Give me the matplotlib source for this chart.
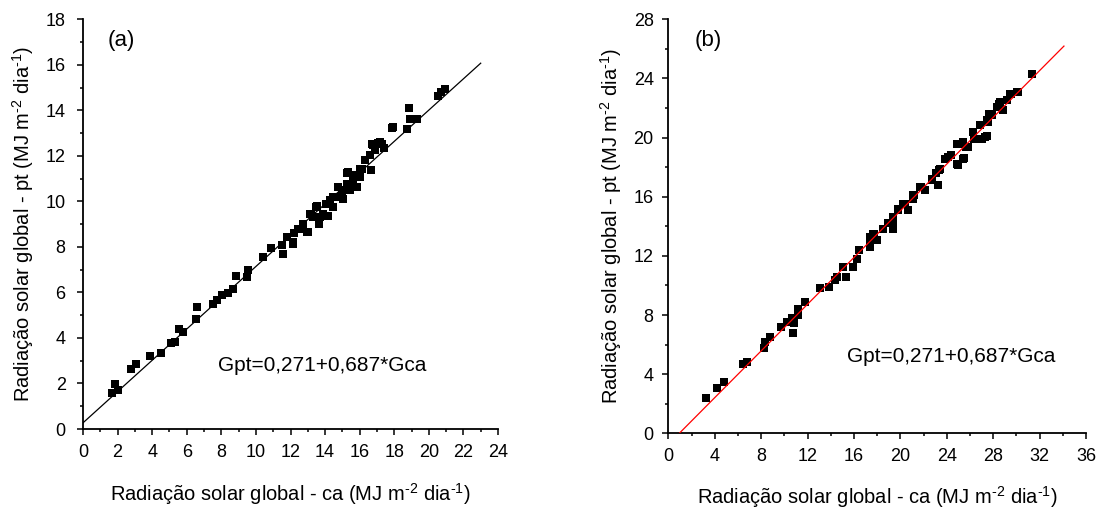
import matplotlib
matplotlib.use("Agg")
import matplotlib.pyplot as plt
import numpy as np
from matplotlib.ticker import MultipleLocator

plt.rcParams['font.family'] = ['Liberation Sans', 'DejaVu Sans']
plt.rcParams['mathtext.fontset'] = 'custom'
plt.rcParams['mathtext.rm'] = 'Liberation Sans'
plt.rcParams['mathtext.default'] = 'regular'

# Panel (a) data
a_x = [1.70, 1.85, 2.00, 2.76, 3.06, 3.87, 4.49, 5.09, 5.32, 5.53, 5.76, 6.57, 6.53,
       7.53, 7.73, 8.01, 8.40, 8.69, 8.82, 9.46, 9.56, 10.42, 10.85, 10.90, 11.54,
       11.48, 11.81, 12.16, 12.20, 12.54, 12.74, 12.99, 13.12, 13.54, 13.62, 13.31,
       13.89, 14.18, 14.05, 14.28, 14.47, 14.66, 14.76, 14.95, 15.05, 15.24, 15.28,
       15.43, 15.59, 15.66, 15.82, 16.01, 16.11, 16.30, 16.63, 16.59, 16.78, 16.88,
       17.07, 17.32, 17.40, 17.88, 17.90, 18.75, 18.84, 18.90, 19.34, 20.54, 20.73,
       20.96, 16.69, 17.17, 15.34, 15.80, 15.62, 15.14, 14.08, 13.50, 13.20, 13.70,
       12.70, 12.45, 12.93, 11.77, 12.16, 16.00, 14.47]
a_y = [1.57, 1.97, 1.71, 2.62, 2.84, 3.20, 3.35, 3.76, 3.83, 4.40, 4.24, 5.34, 4.84,
       5.48, 5.66, 5.88, 5.98, 6.13, 6.73, 6.68, 6.97, 7.56, 7.97, 7.97, 7.71,
       8.10, 8.44, 8.14, 8.61, 8.80, 8.98, 8.66, 9.43, 9.80, 9.02, 9.31,
       9.46, 9.36, 9.90, 10.04, 9.75, 10.19, 10.63, 10.41, 10.12, 10.78, 11.25,
       10.48, 10.92, 11.14, 10.63, 11.07, 11.43, 11.84, 11.39, 12.06, 12.46, 12.24,
       12.56, 12.53, 12.36, 13.23, 13.29, 13.16, 14.11, 13.60, 13.63, 14.65, 14.79,
       14.94, 12.53, 12.60, 11.29, 11.07, 10.70, 10.48, 9.90, 9.75, 9.46, 9.31,
       9.02, 8.80, 8.65, 8.43, 8.22, 11.43, 10.19]

# Panel (b) data
b_x = [3.25, 4.23, 4.83, 6.47, 6.76, 8.28, 8.34, 8.77, 9.72, 10.21, 10.64, 10.72,
       10.84, 11.21, 11.21, 11.78, 13.08, 13.85, 14.37, 14.52, 15.29, 15.09, 15.95,
       16.29, 16.47, 17.39, 17.39, 17.73, 18.02, 18.53, 19.34, 19.40, 19.83, 20.26,
       20.64, 21.07, 21.21, 21.70, 22.13, 22.71, 23.28, 23.36, 23.10, 23.85, 24.34,
       24.91, 24.86, 25.43, 25.49, 25.81, 26.24, 26.35, 26.87, 27.02, 27.45, 27.45,
       27.67, 28.31, 28.53, 28.83, 29.17, 29.52, 30.17, 31.33, 30.03, 29.46, 28.60,
       27.88, 27.59, 26.30, 27.30, 25.00, 25.70, 25.43, 25.00, 24.14, 23.42, 22.70,
       21.80, 21.10, 20.40, 19.80, 19.40, 18.97, 17.67, 17.39]
b_y = [2.36, 3.08, 3.49, 4.66, 4.84, 5.74, 6.19, 6.49, 7.20, 7.54, 7.77, 6.76,
       7.43, 7.99, 8.38, 8.85, 9.80, 9.91, 10.36, 10.58, 10.58, 11.22, 11.26,
       11.76, 12.43, 12.61, 13.06, 13.47, 13.06, 13.85, 13.85, 14.30, 15.09, 15.54,
       15.09, 15.88, 16.10, 16.66, 16.44, 17.11, 16.78, 17.79, 17.60, 18.53, 18.80,
       18.20, 19.59, 19.70, 18.65, 19.37, 20.38, 19.93, 20.83, 19.93, 20.09, 21.17,
       21.57, 22.07, 22.25, 21.84, 22.52, 22.97, 23.08, 24.32, 23.08, 22.97, 22.40,
       21.50, 21.05, 20.38, 20.04, 19.60, 19.37, 18.58, 18.13, 18.69, 17.90, 17.20,
       16.66, 16.10, 15.54, 15.20, 14.60, 14.19, 13.51, 13.28]

# regression lines (intercept, slope, x-range)
a_fit = (0.271, 0.687, 0.0, 23.0)
b_fit = (-0.75, 0.79, 0.95, 34.1)

eq_text = "Gpt=0,271+0,687*Gca"
xlabel = "Radiação solar global - ca (MJ m$^{\u2010 2}$ dia$^{\u2010 1}$)".replace("\u2010 ", "\u2010")
ylabel = "Radiação solar global - pt (MJ m$^{\u20102}$ dia$^{\u20101}$)"

fig = plt.figure(figsize=(11.01, 5.09), dpi=100)
axa = fig.add_axes([83/1101, 1-429/509, (498-83)/1101, (429-19.3)/509])
axb = fig.add_axes([668.3/1101, 1-433.3/509, (1086-668.3)/1101, (433.3-19.3)/509])


def style(ax, xmax, ymax, major, minor, xpad, ypad):
    ax.set_xlim(0, xmax)
    ax.set_ylim(0, ymax)
    ax.xaxis.set_major_locator(MultipleLocator(major))
    ax.xaxis.set_minor_locator(MultipleLocator(minor))
    ax.yaxis.set_major_locator(MultipleLocator(major))
    ax.yaxis.set_minor_locator(MultipleLocator(minor))
    for s in ['top', 'right']:
        ax.spines[s].set_visible(False)
    for s in ['left', 'bottom']:
        ax.spines[s].set_linewidth(1.3)
    ax.tick_params(which='major', direction='out', length=4.5, width=1.1,
                   labelsize=13)
    ax.tick_params(axis='x', which='major', pad=xpad)
    ax.tick_params(axis='y', which='major', pad=ypad)
    ax.tick_params(which='minor', direction='out', length=2.5, width=1.1)
    ax.set_xlabel(xlabel, fontsize=14.5, labelpad=14)
    ax.set_ylabel(ylabel, fontsize=14.5, labelpad=7)


style(axa, 24, 18, 2, 1, 6.5, 8)
style(axb, 36, 28, 4, 2, 6, 6)

axa.scatter(a_x, a_y, marker='s', s=34, color='black', linewidths=0, zorder=3,
            clip_on=False)
xa = np.array([a_fit[2], a_fit[3]])
axa.plot(xa, a_fit[0] + a_fit[1]*xa, color='black', lw=0.9, zorder=2)
axa.text(0.06, 0.948, "(a)", transform=axa.transAxes, fontsize=16,
         ha='left', va='center')
axa.text(0.325, 0.156, eq_text, transform=axa.transAxes, fontsize=15,
         ha='left', va='center')

axb.scatter(b_x, b_y, marker='s', s=34, color='black', linewidths=0, zorder=3,
            clip_on=False)
xb = np.array([b_fit[2], b_fit[3]])
axb.plot(xb, b_fit[0] + b_fit[1]*xb, color='red', lw=0.9, zorder=4)
axb.text(0.062, 0.95, "(b)", transform=axb.transAxes, fontsize=16,
         ha='left', va='center')
axb.text(0.428, 0.186, eq_text, transform=axb.transAxes, fontsize=15,
         ha='left', va='center')

fig.savefig("out.png", dpi=100)
